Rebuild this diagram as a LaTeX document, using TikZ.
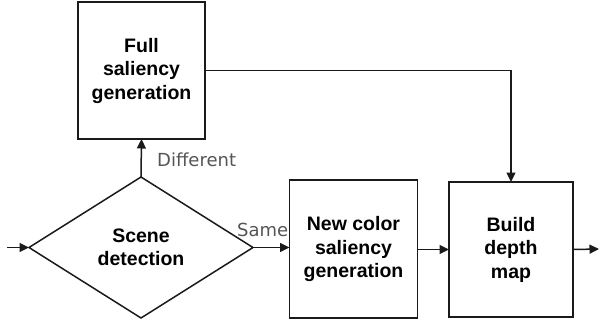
\documentclass[tikz,border=0pt]{standalone}
\usepackage{fontspec}
\setmainfont{Liberation Sans}
\newfontfamily\dvfont{DejaVu Sans}
\usetikzlibrary{shapes.geometric,arrows.meta}
\definecolor{ink}{HTML}{1A1A1A}
\definecolor{lbl}{HTML}{555555}
\tikzset{
  blk/.style={draw=ink, line width=1.5pt, rectangle, inner sep=0pt, outer sep=0pt, align=center,
    font=\fontsize{19.5}{23.5}\selectfont\bfseries},
  dia/.style={draw=ink, line width=1.5pt, diamond, inner sep=0pt, outer sep=0pt, align=center,
    minimum width=224pt, minimum height=141pt, font=\fontsize{19.5}{23.5}\selectfont\bfseries},
  conn/.style={draw=ink, line width=1.5pt, -{Triangle[length=9.5pt,width=9pt]}},
  tag/.style={text=lbl, inner sep=0pt, font=\dvfont\fontsize{18}{20}\selectfont}
}
\begin{document}
\begin{tikzpicture}[x=1pt,y=-1pt]
\useasboundingbox (0,0) rectangle (599,327);
\node[blk, minimum width=127pt, minimum height=137pt] (full) at (141.5,70.5) {Full\\saliency\\generation};
\node[dia] (scene) at (141,247.5) {Scene\\detection};
\node[blk, minimum width=128pt, minimum height=138pt] (newc) at (353.5,249) {New color\\saliency\\generation};
\node[blk, minimum width=124pt, minimum height=135pt] (build) at (511,249.5) {Build\\depth\\map};
\coordinate (in) at (7,247.5);
\coordinate (out) at (599,249);
\draw[conn] (in) -- (scene.west);
\draw[conn] (scene.north) -- (full.south);
\draw[conn] (scene.east) -- (scene.east -| newc.west);
\draw[conn] (newc.east |- build.west) -- (build.west);
\draw[conn] (full.east) -| (build.north);
\draw[conn] (build.east) -- (out);
\node[tag, anchor=west] (diff) at (157,160) {Different};
\node[tag, anchor=west] (same) at (237,230) {Same};
\end{tikzpicture}
\end{document}
